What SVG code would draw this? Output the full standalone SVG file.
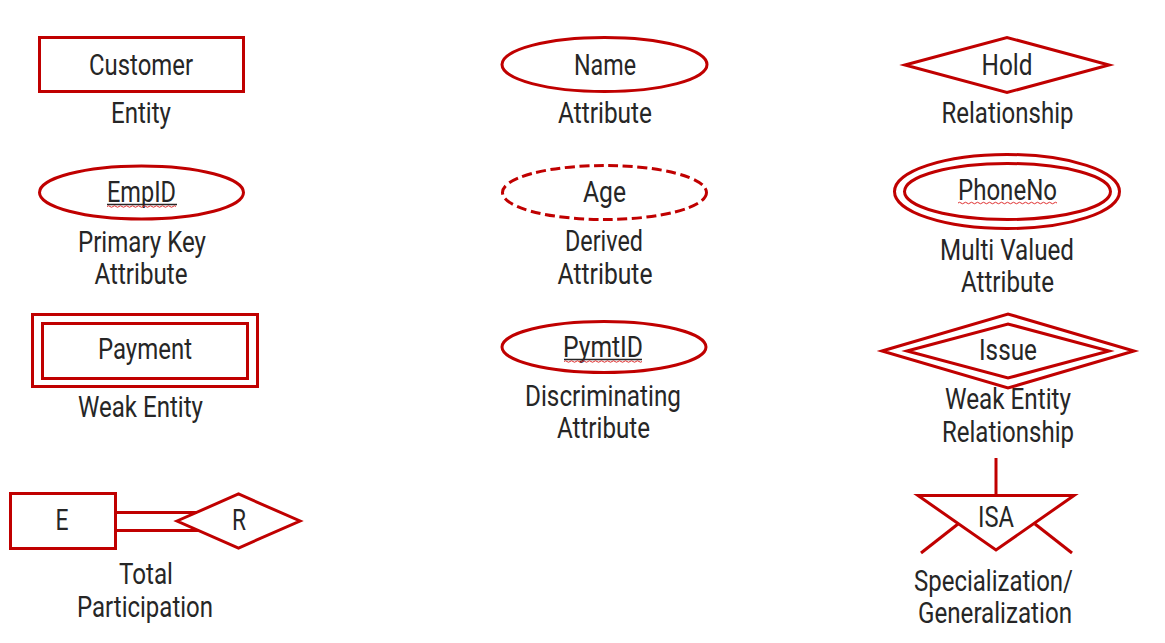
<svg xmlns="http://www.w3.org/2000/svg" width="1165" height="643" viewBox="0 0 1165 643">
<style>
.s{fill:none;stroke:#c00000;stroke-width:3}
.d{stroke-dasharray:10 4.5}
.t{font-family:Roboto,"Liberation Sans",sans-serif;font-size:29px;fill:#262626;text-anchor:middle}
.u{stroke:#262626;stroke-width:1.3}
.w{fill:none;stroke:#e03030;stroke-width:1}
</style>
<rect width="1165" height="643" fill="#fff"/>
<g id="entity">
<rect class="s" x="39.5" y="37.5" width="204" height="54"/>
<text class="t" x="141" y="75" textLength="104" lengthAdjust="spacingAndGlyphs">Customer</text>
<text class="t" x="141" y="123" textLength="60" lengthAdjust="spacingAndGlyphs">Entity</text>
</g>
<g id="attribute">
<ellipse class="s" cx="604.5" cy="64.5" rx="102.5" ry="27"/>
<text class="t" x="605" y="75" textLength="62" lengthAdjust="spacingAndGlyphs">Name</text>
<text class="t" x="605" y="123" textLength="94" lengthAdjust="spacingAndGlyphs">Attribute</text>
</g>
<g id="relationship">
<polygon class="s" points="905,65 1007,37.5 1109,65 1007,92.5"/>
<text class="t" x="1007" y="75" textLength="51" lengthAdjust="spacingAndGlyphs">Hold</text>
<text class="t" x="1007.5" y="123" textLength="132" lengthAdjust="spacingAndGlyphs">Relationship</text>
</g>
<g id="primary-key">
<ellipse class="s" cx="141.5" cy="192.5" rx="102" ry="26.5"/>
<text class="t" x="141.5" y="202" textLength="69" lengthAdjust="spacingAndGlyphs">EmpID</text>
<line class="u" x1="107" y1="204.5" x2="177" y2="204.5"/>
<path class="w" d="M107,206.5 q1.5,-1.5 3,0 t3,0 t3,0 t3,0 t3,0 t3,0 t3,0 t3,0 t3,0 t3,0 t3,0 t3,0 t3,0 t3,0 t3,0 t3,0 t3,0 t3,0 t3,0 t3,0 t3,0 t3,0 t3,0"/>
<text class="t" x="142" y="252" textLength="128" lengthAdjust="spacingAndGlyphs">Primary Key</text>
<text class="t" x="141" y="284" textLength="93" lengthAdjust="spacingAndGlyphs">Attribute</text>
</g>
<g id="derived">
<ellipse class="s d" cx="604.5" cy="192.5" rx="102" ry="27"/>
<text class="t" x="604.5" y="202" textLength="43" lengthAdjust="spacingAndGlyphs">Age</text>
<text class="t" x="604" y="251" textLength="78" lengthAdjust="spacingAndGlyphs">Derived</text>
<text class="t" x="605" y="284" textLength="95" lengthAdjust="spacingAndGlyphs">Attribute</text>
</g>
<g id="multivalued">
<ellipse class="s" cx="1007" cy="191.5" rx="112.5" ry="37"/>
<ellipse class="s" cx="1007.5" cy="191.5" rx="103" ry="28"/>
<text class="t" x="1007.5" y="200" textLength="99" lengthAdjust="spacingAndGlyphs">PhoneNo</text>
<path class="w" d="M958,203 q1.5,-1.5 3,0 t3,0 t3,0 t3,0 t3,0 t3,0 t3,0 t3,0 t3,0 t3,0 t3,0 t3,0 t3,0 t3,0 t3,0 t3,0 t3,0 t3,0 t3,0 t3,0 t3,0 t3,0 t3,0 t3,0 t3,0 t3,0 t3,0 t3,0 t3,0 t3,0 t3,0 t3,0 t3,0"/>
<text class="t" x="1007" y="260" textLength="134" lengthAdjust="spacingAndGlyphs">Multi Valued</text>
<text class="t" x="1007.5" y="292" textLength="93" lengthAdjust="spacingAndGlyphs">Attribute</text>
</g>
<g id="weak-entity">
<rect class="s" x="32.5" y="314.5" width="225" height="72"/>
<rect class="s" x="42.5" y="323.5" width="205" height="55"/>
<text class="t" x="145" y="359" textLength="94" lengthAdjust="spacingAndGlyphs">Payment</text>
<text class="t" x="140.5" y="417" textLength="125" lengthAdjust="spacingAndGlyphs">Weak Entity</text>
</g>
<g id="discriminating">
<ellipse class="s" cx="604" cy="347" rx="102" ry="25.5"/>
<text class="t" x="603" y="357" textLength="80" lengthAdjust="spacingAndGlyphs">PymtID</text>
<line class="u" x1="564" y1="359.5" x2="642" y2="359.5"/>
<path class="w" d="M564,361.5 q1.5,-1.5 3,0 t3,0 t3,0 t3,0 t3,0 t3,0 t3,0 t3,0 t3,0 t3,0 t3,0 t3,0 t3,0 t3,0 t3,0 t3,0 t3,0 t3,0 t3,0 t3,0 t3,0 t3,0 t3,0 t3,0 t3,0 t3,0"/>
<text class="t" x="603" y="406" textLength="156" lengthAdjust="spacingAndGlyphs">Discriminating</text>
<text class="t" x="603.5" y="438" textLength="93" lengthAdjust="spacingAndGlyphs">Attribute</text>
</g>
<g id="weak-relationship">
<polygon class="s" points="882,351 1008,314 1134,351 1008,388"/>
<polygon class="s" points="907,351 1008,324 1109,351 1008,378"/>
<text class="t" x="1008" y="360" textLength="58" lengthAdjust="spacingAndGlyphs">Issue</text>
<text class="t" x="1008" y="409" textLength="126" lengthAdjust="spacingAndGlyphs">Weak Entity</text>
<text class="t" x="1008" y="442" textLength="132" lengthAdjust="spacingAndGlyphs">Relationship</text>
</g>
<g id="total-participation">
<rect class="s" x="10.5" y="493.5" width="105" height="55"/>
<text class="t" x="62" y="530" textLength="13" lengthAdjust="spacingAndGlyphs">E</text>
<polygon class="s" points="177,521 238.5,494 300,521 238.5,548"/>
<text class="t" x="239" y="530" textLength="14" lengthAdjust="spacingAndGlyphs">R</text>
<text class="t" x="146" y="584" textLength="54" lengthAdjust="spacingAndGlyphs">Total</text>
<text class="t" x="145" y="617" textLength="136" lengthAdjust="spacingAndGlyphs">Participation</text>
</g>
<g id="isa">
<polygon class="s" points="918,495.5 1074,495.5 996,550"/>
<text class="t" x="996" y="527" textLength="36" lengthAdjust="spacingAndGlyphs">ISA</text>
<text class="t" x="993.5" y="591" textLength="159" lengthAdjust="spacingAndGlyphs">Specialization/</text>
<text class="t" x="995" y="623" textLength="154" lengthAdjust="spacingAndGlyphs">Generalization</text>
</g>
<g id="connectors">
<line class="s" x1="115.5" y1="512.5" x2="197" y2="512.5"/>
<line class="s" x1="115.5" y1="530.5" x2="199" y2="530.5"/>
<line class="s" x1="996" y1="458" x2="996" y2="495.5"/>
<line class="s" x1="958" y1="524" x2="921" y2="553"/>
<line class="s" x1="1035" y1="524" x2="1072" y2="553"/>
</g>
</svg>
